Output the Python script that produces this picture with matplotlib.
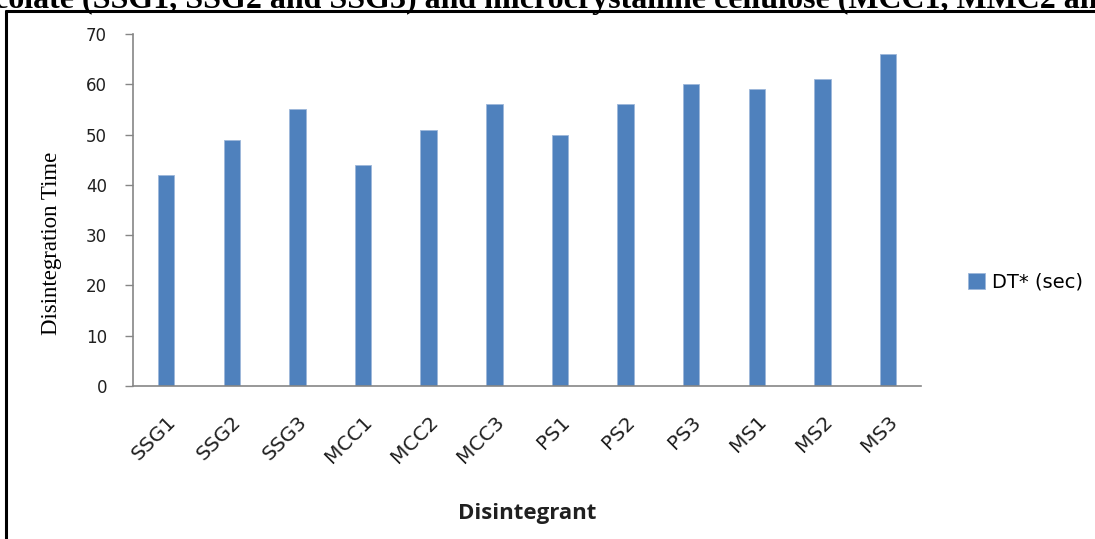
#!/usr/bin/env python3
"""Disintegration time of tablets by disintegrant type."""

import matplotlib

matplotlib.use("Agg")
import matplotlib.pyplot as plt
from matplotlib.lines import Line2D

categories = ["SSG1", "SSG2", "SSG3", "MCC1", "MCC2", "MCC3",
              "PS1", "PS2", "PS3", "MS1", "MS2", "MS3"]
dt_sec = [42, 49, 55, 44, 51, 56, 50, 56, 60, 59, 61, 66]
y_ticks = [0, 10, 20, 30, 40, 50, 60, 70]

W, H = 1095, 539
BAR = "#4F81BD"
AXIS = "#868686"
SANS = ["DejaVu Sans"]
LABEL = ["Open Sans", "DejaVu Sans"]
SERIF = ["Liberation Serif", "DejaVu Serif"]


def main() -> None:
    fig = plt.figure(figsize=(W / 100, H / 100), dpi=100)
    ax = fig.add_axes([133.3 / W, 1 - 386 / H, (921 - 133.3) / W, (386 - 34) / H])

    x = range(len(categories))
    ax.bar(x, dt_sec, width=0.25, color=BAR, edgecolor="#9db7da", linewidth=0.6,
           label="DT* (sec)")

    ax.set_xlim(-0.5, len(categories) - 0.5)
    ax.set_ylim(0, 70)
    ax.set_yticks(y_ticks)
    ax.set_yticklabels([str(v) for v in y_ticks], fontfamily=SANS, fontsize=12,
                       color="#202020")
    ax.set_xticks(list(x))
    ax.set_xticklabels(categories, rotation=45, ha="right", va="top",
                       rotation_mode="anchor", fontfamily=SANS, fontsize=14.5,
                       color="#202020")

    for side in ("top", "right"):
        ax.spines[side].set_visible(False)
    for side in ("left", "bottom"):
        ax.spines[side].set_color(AXIS)
        ax.spines[side].set_linewidth(1.2)
    ax.tick_params(axis="y", direction="out", length=6, width=1.0, color=AXIS, pad=13)
    ax.tick_params(axis="x", length=0, pad=19)

    ax.set_ylabel("Disintegration Time", fontfamily=SERIF, fontsize=16.5)
    ax.yaxis.set_label_coords(-0.09, 0.406)
    ax.set_xlabel("Disintegrant", fontfamily=LABEL, fontsize=16, fontweight="bold",
                  color="#202020")
    ax.xaxis.set_label_coords(0.5, -0.333)

    fig.legend(loc="center left", bbox_to_anchor=(968 / W, 1 - 282 / H),
               frameon=False, prop={"family": SANS, "size": 14},
               borderpad=0, borderaxespad=0,
               handlelength=0.85, handleheight=0.85, handletextpad=0.4)

    # running caption above the chart frame, clipped by the page edges
    fig.text(-6 / W, 1 - 8 / H,
             "colate (SSG1, SSG2 and SSG3) and microcrystalline cellulose (MCC1, MMC2 and MCC3)",
             ha="left", va="baseline", fontfamily=SERIF, fontweight="bold", fontsize=23)

    # frame around the chart
    fig.add_artist(Line2D([5.5 / W, 5.5 / W], [1 - 10 / H, 0], transform=fig.transFigure,
                          color="black", lw=2.2, solid_capstyle="butt"))
    fig.add_artist(Line2D([4.5 / W, 1], [1 - 11 / H, 1 - 11 / H], transform=fig.transFigure,
                          color="black", lw=2.2, solid_capstyle="butt"))

    fig.savefig("out.png", dpi=100)
    plt.close(fig)


if __name__ == "__main__":
    main()
